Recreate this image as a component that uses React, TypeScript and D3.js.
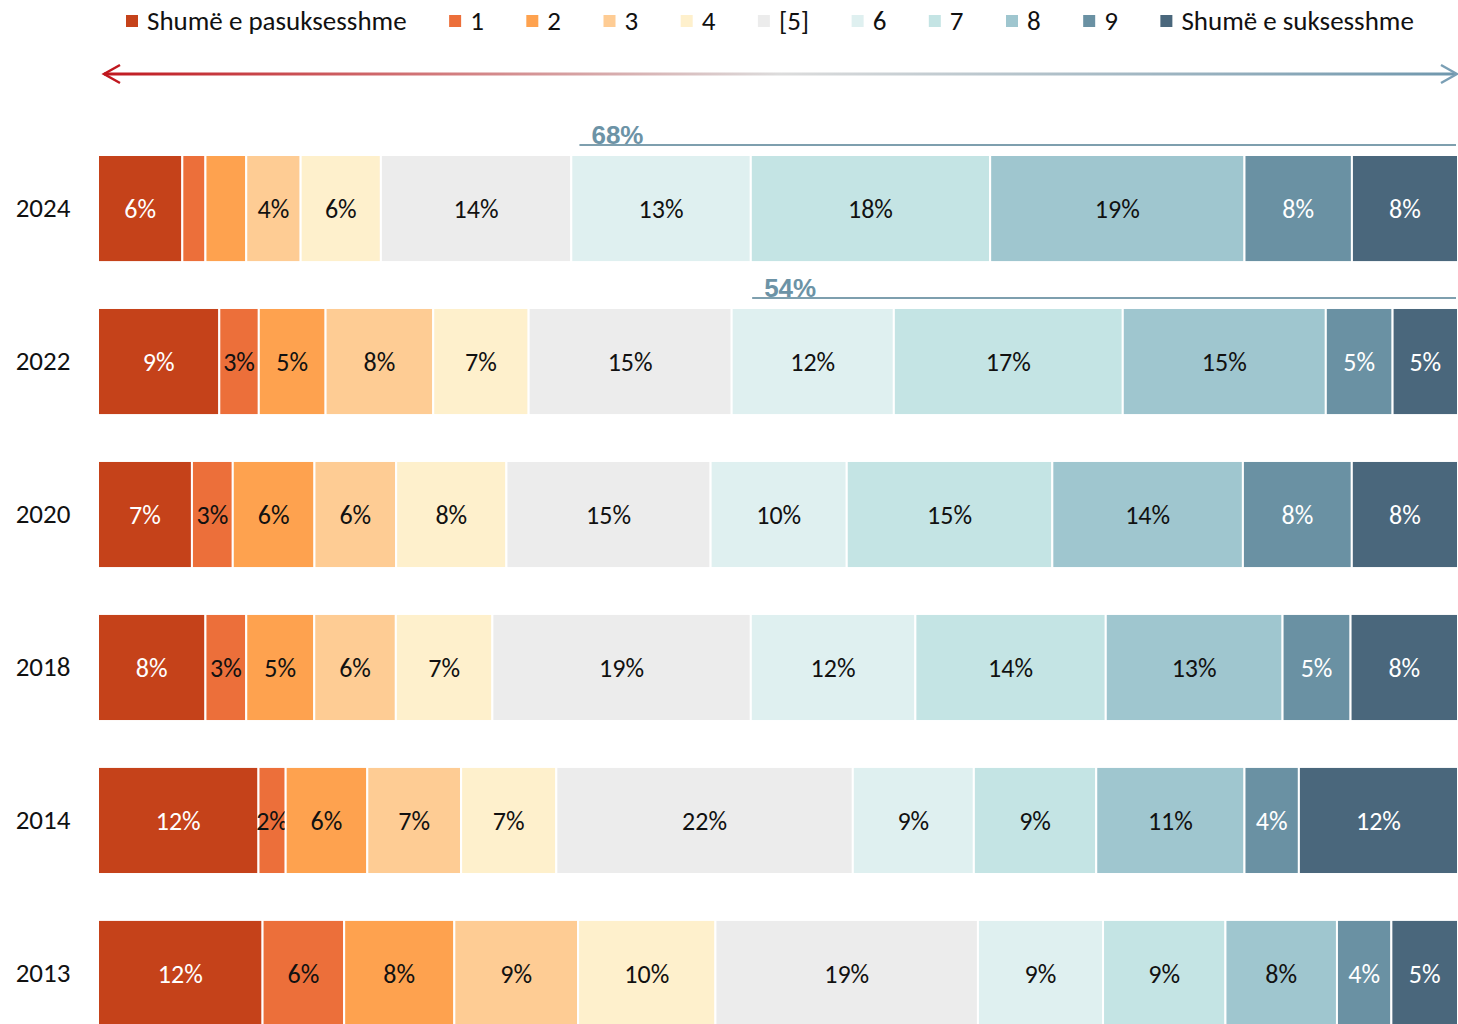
import React, { useRef, useEffect } from 'react';
import * as d3 from 'd3';

// categories, worst -> best
const categories = ['Shumë e pasuksesshme', '1', '2', '3', '4', '[5]', '6', '7', '8', '9', 'Shumë e suksesshme'];
const colors = ['#c5421a', '#ec6f3a', '#fea24f', '#fecc94', '#fef0cc', '#ececec', '#dff0f0', '#c4e4e4', '#9fc6cf', '#6a91a3', '#4a677c'];
const years = ['2024', '2022', '2020', '2018', '2014', '2013'];

// shares in %
const v2024 = [6.2, 1.7, 3.0, 4.0, 5.9, 14.0, 13.2, 17.6, 18.7, 7.9, 7.8];
const v2022 = [8.9, 2.9, 4.9, 7.9, 7.0, 14.9, 11.9, 16.8, 14.9, 4.9, 4.8];
const v2020 = [6.9, 3.0, 6.0, 6.0, 8.1, 15.0, 10.0, 15.1, 14.0, 8.0, 7.8];
const v2018 = [7.9, 3.0, 5.0, 6.0, 7.1, 19.0, 12.1, 14.0, 13.0, 5.0, 7.9];
const v2014 = [11.8, 2.0, 6.0, 6.9, 7.0, 21.8, 8.9, 9.0, 10.9, 4.0, 11.7];
const v2013 = [12.1, 6.0, 8.1, 9.1, 10.1, 19.3, 9.2, 9.0, 8.2, 4.0, 4.9];

// printed labels ('' = not shown)
const l2024 = ['6%', '', '', '4%', '6%', '14%', '13%', '18%', '19%', '8%', '8%'];
const l2022 = ['9%', '3%', '5%', '8%', '7%', '15%', '12%', '17%', '15%', '5%', '5%'];
const l2020 = ['7%', '3%', '6%', '6%', '8%', '15%', '10%', '15%', '14%', '8%', '8%'];
const l2018 = ['8%', '3%', '5%', '6%', '7%', '19%', '12%', '14%', '13%', '5%', '8%'];
const l2014 = ['12%', '2%', '6%', '7%', '7%', '22%', '9%', '9%', '11%', '4%', '12%'];
const l2013 = ['12%', '6%', '8%', '9%', '10%', '19%', '9%', '9%', '8%', '4%', '5%'];

// "successful" brackets above the bars: year, text, start (% of bar)
const noteYears = ['2024', '2022'];
const noteTexts = ['68%', '54%'];
const noteFrom = [35.4, 48.1];

const values = [v2024, v2022, v2020, v2018, v2014, v2013];
const labels = [l2024, l2022, l2020, l2018, l2014, l2013];

const FONT = 'Carlito, Calibri, Lato, sans-serif';

const App = () => {
  const svgRef = useRef<SVGSVGElement>(null);
  const width = 1458;
  const height = 1024;

  useEffect(() => {
    document.body.style.margin = '0';
    const svg = d3.select(svgRef.current);
    svg.selectAll('*').remove();

    const table = years.map((y, i) => {
      const row: any = { year: y };
      categories.forEach((c, j) => (row[c] = values[i][j]));
      return row;
    });

    const series = d3.stack().keys(categories).offset(d3.stackOffsetExpand)(table);

    const x = d3.scaleLinear().domain([0, 1]).range([98, 1458]);
    const y = d3.scaleBand().domain(years).range([155, 1027]).paddingInner(0.3).paddingOuter(0);

    // bars
    const g = svg.append('g');
    series.forEach((s, j) => {
      g.append('g')
        .attr('fill', colors[j])
        .selectAll('rect')
        .data(s)
        .join('rect')
        .attr('x', d => x(d[0]))
        .attr('width', d => Math.max(0, x(d[1]) - x(d[0])))
        .attr('y', d => y(d.data.year as any)!)
        .attr('height', y.bandwidth())
        .attr('stroke', '#fff')
        .attr('stroke-width', 2);

      g.append('g')
        .selectAll('text')
        .data(s)
        .join('text')
        .attr('x', d => (x(d[0]) + x(d[1])) / 2)
        .attr('y', d => y(d.data.year as any)! + y.bandwidth() / 2)
        .attr('dy', '0.35em')
        .attr('text-anchor', 'middle')
        .attr('font-family', FONT)
        .attr('font-size', 26)
        .attr('fill', j === 0 || j >= 9 ? '#fff' : '#111')
        .text((d, i) => labels[i][j]);
    });

    // year labels
    svg.append('g')
      .selectAll('text')
      .data(years)
      .join('text')
      .attr('x', 43)
      .attr('y', d => y(d)! + y.bandwidth() / 2)
      .attr('dy', '0.3em')
      .attr('text-anchor', 'middle')
      .attr('font-family', FONT)
      .attr('font-size', 27)
      .attr('fill', '#111')
      .text(d => d);

    // notes above bars
    noteYears.forEach((yr, i) => {
      const top = y(yr)!;
      const x0 = x(noteFrom[i] / 100);
      svg.append('line')
        .attr('x1', x0).attr('x2', x(1) - 2)
        .attr('y1', top - 10).attr('y2', top - 10)
        .attr('stroke', '#7e9fae')
        .attr('stroke-width', 2);
      svg.append('text')
        .attr('x', x0 + 12)
        .attr('y', top - 11)
        .attr('font-family', '"Liberation Sans Narrow", "Arial Narrow", "Liberation Sans", Arial, sans-serif')
        .attr('font-weight', 'bold')
        .attr('font-size', 26)
        .attr('fill', '#6c93a6')
        .text(noteTexts[i]);
    });

    // gradient arrow
    const defs = svg.append('defs');
    const grad = defs.append('linearGradient')
      .attr('id', 'arrowGrad')
      .attr('gradientUnits', 'userSpaceOnUse')
      .attr('x1', 102).attr('x2', 1458).attr('y1', 0).attr('y2', 0);
    grad.append('stop').attr('offset', '0%').attr('stop-color', '#c0171e');
    grad.append('stop').attr('offset', '25%').attr('stop-color', '#d27a7c');
    grad.append('stop').attr('offset', '50%').attr('stop-color', '#dcdcdc');
    grad.append('stop').attr('offset', '100%').attr('stop-color', '#6f97ad');

    const ay = 74;
    svg.append('line')
      .attr('x1', 104).attr('x2', 1455)
      .attr('y1', ay).attr('y2', ay)
      .attr('stroke', 'url(#arrowGrad)')
      .attr('stroke-width', 3);
    svg.append('path')
      .attr('d', `M120,${ay - 9} L104,${ay} L120,${ay + 9}`)
      .attr('fill', 'none')
      .attr('stroke', '#c0171e')
      .attr('stroke-width', 2.5);
    svg.append('path')
      .attr('d', `M1441,${ay - 9} L1457,${ay} L1441,${ay + 9}`)
      .attr('fill', 'none')
      .attr('stroke', '#7a9fb5')
      .attr('stroke-width', 2.5);

    // legend, flowing left to right
    const legend = svg.append('g');
    let lx = 126;
    categories.forEach((c, j) => {
      legend.append('rect')
        .attr('x', lx).attr('y', 15)
        .attr('width', 12).attr('height', 12)
        .attr('fill', colors[j]);
      const t = legend.append('text')
        .attr('x', lx + 21)
        .attr('y', 30)
        .attr('font-family', FONT)
        .attr('font-size', 27)
        .attr('fill', '#111')
        .text(c);
      const w = (t.node() as SVGTextElement).getComputedTextLength();
      lx = lx + 21 + w + 42.5;
    });
  }, []);

  return (
    <div style={{ position: 'absolute', left: 0, top: 0 }}>
      <svg ref={svgRef} width={width} height={height} style={{ display: 'block', background: '#fff' }} />
    </div>
  );
};

export default App;
